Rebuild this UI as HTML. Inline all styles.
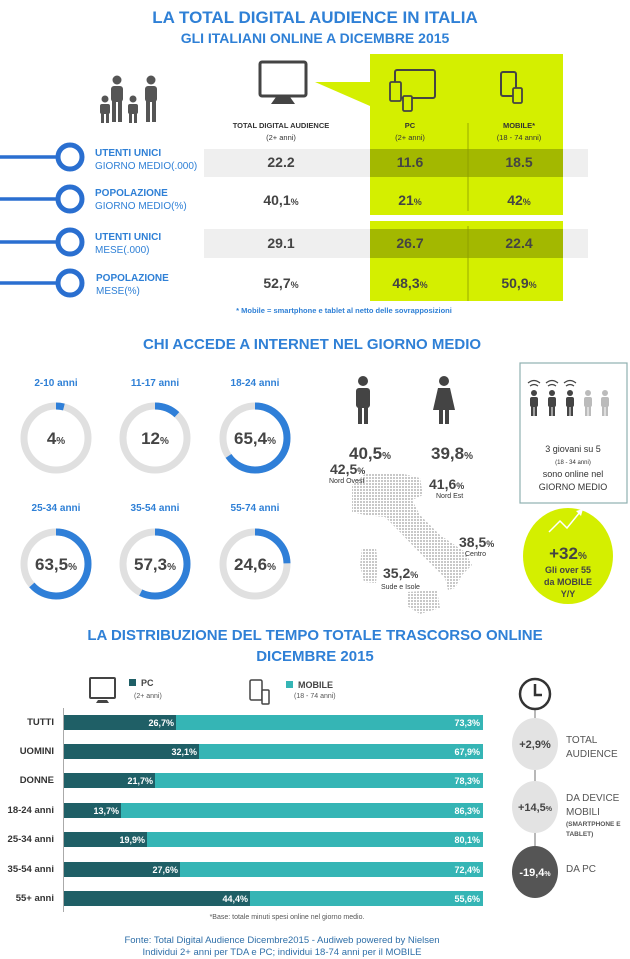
<!DOCTYPE html>
<html><head><meta charset="utf-8"><style>
html,body{margin:0;padding:0;background:#fff}
svg{display:block}
text{font-family:"Liberation Sans",sans-serif}
</style></head><body>
<svg width="630" height="959" viewBox="0 0 630 959" xmlns="http://www.w3.org/2000/svg">
<defs>
<pattern id="dots" width="3" height="3" patternUnits="userSpaceOnUse"><rect width="2" height="2" fill="#c8c8c8"/></pattern>
</defs>
<text x="315" y="23" text-anchor="middle" font-size="17" font-weight="bold" fill="#2f80d6">LA TOTAL DIGITAL AUDIENCE IN ITALIA</text>
<text x="315" y="43" text-anchor="middle" font-size="14" font-weight="bold" fill="#2f80d6">GLI ITALIANI ONLINE A DICEMBRE 2015</text>

<rect x="370" y="54" width="193" height="161" fill="#d4ef00"/>
<rect x="370" y="221" width="193" height="80" fill="#d4ef00"/>
<polygon points="315,82 370,82 370,106" fill="#d4ef00"/>
<rect x="204" y="149" width="384" height="28" fill="#efefef"/>
<rect x="370" y="149" width="193" height="28" fill="#a3b800"/>
<rect x="204" y="229" width="384" height="29" fill="#efefef"/>
<rect x="370" y="229" width="193" height="29" fill="#a3b800"/>
<line x1="468" y1="123" x2="468" y2="211" stroke="#8a9a00" stroke-width="0.8"/>
<line x1="468" y1="226" x2="468" y2="301" stroke="#8a9a00" stroke-width="0.8"/>

<g fill="#555">
<circle cx="117" cy="80" r="4.5"/><rect x="111" y="86" width="12" height="16" rx="3"/><rect x="112" y="100" width="4" height="22"/><rect x="118" y="100" width="4" height="22"/>
<circle cx="151" cy="80" r="4.5"/><rect x="145" y="86" width="12" height="16" rx="3"/><rect x="146" y="100" width="4" height="22"/><rect x="152" y="100" width="4" height="22"/>
<circle cx="105" cy="99" r="3.5"/><rect x="100" y="104" width="10" height="10" rx="2"/><rect x="101" y="112" width="3" height="11"/><rect x="106" y="112" width="3" height="11"/>
<circle cx="133" cy="99" r="3.5"/><rect x="128" y="104" width="10" height="10" rx="2"/><rect x="129" y="112" width="3" height="11"/><rect x="134" y="112" width="3" height="11"/>
</g>
<rect x="260" y="62" width="46" height="34" rx="2" fill="#fff" stroke="#444" stroke-width="3"/>
<polygon points="276,97 290,97 295,104 271,104" fill="#444"/>
<rect x="395" y="70" width="40" height="28" rx="2" fill="none" stroke="#444" stroke-width="2"/>
<rect x="390" y="82" width="11" height="19" rx="1.5" fill="#d4ef00" stroke="#444" stroke-width="1.8"/>
<rect x="403" y="96" width="9" height="15" rx="1.5" fill="#d4ef00" stroke="#444" stroke-width="1.8"/>
<rect x="501" y="72" width="15" height="24" rx="2" fill="none" stroke="#444" stroke-width="2"/>
<rect x="513" y="88" width="9" height="15" rx="1.5" fill="#d4ef00" stroke="#444" stroke-width="1.8"/>

<g font-size="7.5" fill="#333" text-anchor="middle">
<text x="281" y="128" font-weight="bold">TOTAL DIGITAL AUDIENCE</text>
<text x="281" y="140">(2+ anni)</text>
<text x="410" y="128" font-weight="bold">PC</text>
<text x="410" y="140">(2+ anni)</text>
<text x="519" y="128" font-weight="bold">MOBILE*</text>
<text x="519" y="140">(18 - 74 anni)</text>
</g>
<g stroke="#2a6fd0" stroke-width="3.5" fill="#fff">
<line x1="0" y1="157" x2="58" y2="157"/><circle cx="70" cy="157" r="12" stroke-width="5"/>
<line x1="0" y1="199" x2="58" y2="199"/><circle cx="70" cy="199" r="12" stroke-width="5"/>
<line x1="0" y1="242" x2="58" y2="242"/><circle cx="70" cy="242" r="12" stroke-width="5"/>
<line x1="0" y1="283" x2="58" y2="283"/><circle cx="70" cy="283" r="12" stroke-width="5"/>
</g>
<g font-size="10" fill="#2f80d6">
<text x="95" y="156" font-weight="bold">UTENTI UNICI</text><text x="95" y="169">GIORNO MEDIO(.000)</text>
<text x="95" y="196" font-weight="bold">POPOLAZIONE</text><text x="95" y="209">GIORNO MEDIO(%)</text>
<text x="95" y="240" font-weight="bold">UTENTI UNICI</text><text x="95" y="253">MESE(.000)</text>
<text x="96" y="281" font-weight="bold">POPOLAZIONE</text><text x="96" y="294">MESE(%)</text>
</g>
<g font-size="14" font-weight="bold" fill="#444" text-anchor="middle">
<text x="281" y="167">22.2</text><text x="410" y="167">11.6</text><text x="519" y="167">18.5</text>
<text x="281" y="205">40,1<tspan font-size="9">%</tspan></text><text x="410" y="205">21<tspan font-size="9">%</tspan></text><text x="519" y="205">42<tspan font-size="9">%</tspan></text>
<text x="281" y="248">29.1</text><text x="410" y="248">26.7</text><text x="519" y="248">22.4</text>
<text x="281" y="288">52,7<tspan font-size="9">%</tspan></text><text x="410" y="288">48,3<tspan font-size="9">%</tspan></text><text x="519" y="288">50,9<tspan font-size="9">%</tspan></text>
</g>
<text x="344" y="313" text-anchor="middle" font-size="7.5" font-weight="bold" fill="#2f80d6">* Mobile  = smartphone  e  tablet al netto delle sovrapposizioni</text>

<text x="312" y="349" text-anchor="middle" font-size="15" font-weight="bold" fill="#2f80d6">CHI ACCEDE A INTERNET NEL GIORNO MEDIO</text>
<g font-size="10" font-weight="bold" fill="#2f80d6" text-anchor="middle">
<text x="56" y="386">2-10 anni</text><text x="155" y="386">11-17 anni</text><text x="255" y="386">18-24 anni</text>
<text x="56" y="511">25-34 anni</text><text x="155" y="511">35-54 anni</text><text x="255" y="511">55-74 anni</text>
</g>
<g fill="none" stroke-width="7">
<circle cx="56" cy="438" r="32" stroke="#e0e0e0"/>
<circle cx="56" cy="438" r="32" stroke="#2f7fd8" stroke-dasharray="8.0 200" transform="rotate(-90 56 438)"/>
<circle cx="155" cy="438" r="32" stroke="#e0e0e0"/>
<circle cx="155" cy="438" r="32" stroke="#2f7fd8" stroke-dasharray="24.1 200" transform="rotate(-90 155 438)"/>
<circle cx="255" cy="438" r="32" stroke="#e0e0e0"/>
<circle cx="255" cy="438" r="32" stroke="#2f7fd8" stroke-dasharray="131.5 200" transform="rotate(-90 255 438)"/>
<circle cx="56" cy="564" r="32" stroke="#e0e0e0"/>
<circle cx="56" cy="564" r="32" stroke="#2f7fd8" stroke-dasharray="127.7 200" transform="rotate(-90 56 564)"/>
<circle cx="155" cy="564" r="32" stroke="#e0e0e0"/>
<circle cx="155" cy="564" r="32" stroke="#2f7fd8" stroke-dasharray="115.2 200" transform="rotate(-90 155 564)"/>
<circle cx="255" cy="564" r="32" stroke="#e0e0e0"/>
<circle cx="255" cy="564" r="32" stroke="#2f7fd8" stroke-dasharray="49.5 200" transform="rotate(-90 255 564)"/>
</g>
<g font-size="17" font-weight="bold" fill="#444" text-anchor="middle">
<text x="56" y="444">4<tspan font-size="10">%</tspan></text>
<text x="155" y="444">12<tspan font-size="10">%</tspan></text>
<text x="255" y="444">65,4<tspan font-size="10">%</tspan></text>
<text x="56" y="570">63,5<tspan font-size="10">%</tspan></text>
<text x="155" y="570">57,3<tspan font-size="10">%</tspan></text>
<text x="255" y="570">24,6<tspan font-size="10">%</tspan></text>
</g>
<g fill="#444">
<circle cx="363" cy="381" r="5"/><rect x="356" y="388" width="14" height="20" rx="3"/><rect x="358" y="405" width="4" height="19"/><rect x="364" y="405" width="4" height="19"/>
<circle cx="444" cy="381" r="5"/><polygon points="438,388 450,388 455,410 433,410"/><rect x="439" y="408" width="4" height="16"/><rect x="445" y="408" width="4" height="16"/>
</g>
<g font-size="17" font-weight="bold" fill="#444" text-anchor="middle">
<text x="370" y="459">40,5<tspan font-size="10">%</tspan></text>
<text x="452" y="459">39,8<tspan font-size="10">%</tspan></text>
</g>
<g fill="url(#dots)">
<polygon points="352,485 365,474 400,473 420,478 423,495 412,500 420,515 440,535 465,552 472,565 462,575 455,588 448,590 445,578 432,565 415,548 398,530 385,517 365,515 352,512"/>
<polygon points="362,548 376,548 378,565 376,583 364,582 360,565"/>
<polygon points="407,592 437,590 440,608 420,614 407,606"/>
</g>
<g fill="#444" font-weight="bold" font-size="14">
<text x="330" y="474">42,5<tspan font-size="9">%</tspan></text>
<text x="429" y="489">41,6<tspan font-size="9">%</tspan></text>
<text x="459" y="547">38,5<tspan font-size="9">%</tspan></text>
<text x="383" y="578">35,2<tspan font-size="9">%</tspan></text>
</g>
<g fill="#333" font-size="7">
<text x="329" y="483">Nord Ovest</text><text x="436" y="498">Nord Est</text><text x="465" y="556">Centro</text><text x="381" y="589">Sude e Isole</text>
</g>
<rect x="520" y="363" width="107" height="140" fill="#fff" stroke="#8fb0b0" stroke-width="1.2"/>
<g fill="#444">
<circle cx="534" cy="393" r="3"/><rect x="530" y="397" width="8" height="10" rx="2"/><rect x="531" y="405" width="2.5" height="11"/><rect x="534.5" y="405" width="2.5" height="11"/>
<circle cx="552" cy="393" r="3"/><rect x="548" y="397" width="8" height="10" rx="2"/><rect x="549" y="405" width="2.5" height="11"/><rect x="552.5" y="405" width="2.5" height="11"/>
<circle cx="570" cy="393" r="3"/><rect x="566" y="397" width="8" height="10" rx="2"/><rect x="567" y="405" width="2.5" height="11"/><rect x="570.5" y="405" width="2.5" height="11"/>
</g>
<g fill="#bbb">
<circle cx="588" cy="393" r="3"/><rect x="584" y="397" width="8" height="10" rx="2"/><rect x="585" y="405" width="2.5" height="11"/><rect x="588.5" y="405" width="2.5" height="11"/>
<circle cx="605" cy="393" r="3"/><rect x="601" y="397" width="8" height="10" rx="2"/><rect x="602" y="405" width="2.5" height="11"/><rect x="605.5" y="405" width="2.5" height="11"/>
</g>
<g fill="none" stroke="#444" stroke-width="1.2">
<path d="M530,386 q4,-3 8,0 M528,383 q6,-5 12,0"/><path d="M548,386 q4,-3 8,0 M546,383 q6,-5 12,0"/><path d="M566,386 q4,-3 8,0 M564,383 q6,-5 12,0"/>
</g>
<g fill="#333" text-anchor="middle">
<text x="573" y="452" font-size="9">3 giovani su 5</text>
<text x="573" y="464" font-size="6">(18 - 34 anni)</text>
<text x="573" y="477" font-size="9">sono online nel</text>
<text x="573" y="490" font-size="9">GIORNO  MEDIO</text>
</g>
<ellipse cx="568" cy="556" rx="45" ry="48" fill="#d4ef00"/>
<polyline points="549,532 560,521 567,528 580,512" fill="none" stroke="#fff" stroke-width="1.5"/>
<polygon points="583,509 576,511 581,516" fill="#fff"/>
<g fill="#444" font-weight="bold" text-anchor="middle">
<text x="568" y="559" font-size="17">+32<tspan font-size="10">%</tspan></text>
<text x="568" y="573" font-size="9">Gli over 55</text>
<text x="568" y="585" font-size="9">da MOBILE</text>
<text x="568" y="597" font-size="9">Y/Y</text>
</g>

<text x="315" y="640" text-anchor="middle" font-size="15" font-weight="bold" fill="#2f80d6">LA DISTRIBUZIONE  DEL TEMPO TOTALE TRASCORSO ONLINE</text>
<text x="315" y="661" text-anchor="middle" font-size="15" font-weight="bold" fill="#2f80d6">DICEMBRE 2015</text>
<rect x="90" y="678" width="25" height="20" rx="1" fill="none" stroke="#444" stroke-width="2"/>
<polygon points="98,700 107,700 109,703 96,703" fill="#444"/>
<rect x="129" y="679" width="7" height="7" fill="#1f5f66"/>
<text x="141" y="686" font-size="9" font-weight="bold" fill="#444">PC</text>
<text x="134" y="698" font-size="7" fill="#555">(2+ anni)</text>
<rect x="250" y="680" width="12" height="20" rx="1.5" fill="none" stroke="#444" stroke-width="1.5"/>
<rect x="262" y="690" width="7" height="14" rx="1" fill="#fff" stroke="#444" stroke-width="1.5"/>
<rect x="286" y="681" width="7" height="7" fill="#35b5b5"/>
<text x="298" y="688" font-size="9" font-weight="bold" fill="#444">MOBILE</text>
<text x="294" y="698" font-size="7" fill="#555">(18 - 74 anni)</text>
<line x1="63.5" y1="708" x2="63.5" y2="912" stroke="#aaa" stroke-width="1"/>
<g font-size="9.5" font-weight="bold" fill="#333" text-anchor="end">
<text x="54" y="725">TUTTI</text><text x="54" y="754">UOMINI</text><text x="54" y="783">DONNE</text>
<text x="54" y="813">18-24 anni</text><text x="54" y="842">25-34 anni</text><text x="54" y="872">35-54 anni</text><text x="54" y="901">55+ anni</text>
</g>
<g>
<rect x="64" y="715" width="419" height="15" fill="#35b5b5"/><rect x="64" y="715" width="112" height="15" fill="#1f5f66"/>
<rect x="64" y="744" width="419" height="15" fill="#35b5b5"/><rect x="64" y="744" width="135" height="15" fill="#1f5f66"/>
<rect x="64" y="773" width="419" height="15" fill="#35b5b5"/><rect x="64" y="773" width="91" height="15" fill="#1f5f66"/>
<rect x="64" y="803" width="419" height="15" fill="#35b5b5"/><rect x="64" y="803" width="57" height="15" fill="#1f5f66"/>
<rect x="64" y="832" width="419" height="15" fill="#35b5b5"/><rect x="64" y="832" width="83" height="15" fill="#1f5f66"/>
<rect x="64" y="862" width="419" height="15" fill="#35b5b5"/><rect x="64" y="862" width="116" height="15" fill="#1f5f66"/>
<rect x="64" y="891" width="419" height="15" fill="#35b5b5"/><rect x="64" y="891" width="186" height="15" fill="#1f5f66"/>
</g>
<g font-size="9" font-weight="bold" fill="#fff" text-anchor="end">
<text x="174" y="726">26,7%</text><text x="197" y="755">32,1%</text><text x="153" y="784">21,7%</text>
<text x="119" y="814">13,7%</text><text x="145" y="843">19,9%</text><text x="178" y="873">27,6%</text><text x="248" y="902">44,4%</text>
<text x="480" y="726">73,3%</text><text x="480" y="755">67,9%</text><text x="480" y="784">78,3%</text>
<text x="480" y="814">86,3%</text><text x="480" y="843">80,1%</text><text x="480" y="873">72,4%</text><text x="480" y="902">55,6%</text>
</g>
<text x="287" y="919" text-anchor="middle" font-size="7" fill="#555">*Base: totale  minuti  spesi  online  nel  giorno  medio.</text>
<line x1="535" y1="710" x2="535" y2="860" stroke="#888" stroke-width="1.2"/>
<circle cx="535" cy="694" r="15" fill="#fff" stroke="#333" stroke-width="2.5"/>
<polyline points="535,684 535,695 542,695" fill="none" stroke="#333" stroke-width="2.5"/>
<ellipse cx="535" cy="744" rx="23" ry="26" fill="#e3e3e3"/>
<ellipse cx="535" cy="807" rx="23" ry="26" fill="#e3e3e3"/>
<ellipse cx="535" cy="872" rx="23" ry="26" fill="#555"/>
<g font-weight="bold" text-anchor="middle" font-size="11">
<text x="535" y="748" fill="#444">+2,9%</text>
<text x="535" y="811" fill="#444">+14,5<tspan font-size="7">%</tspan></text>
<text x="535" y="876" fill="#fff">-19,4<tspan font-size="7">%</tspan></text>
</g>
<g font-size="10" fill="#555">
<text x="566" y="743">TOTAL</text><text x="566" y="757">AUDIENCE</text>
<text x="566" y="801">DA DEVICE</text><text x="566" y="815">MOBILI</text>
<text x="566" y="872">DA PC</text>
</g>
<g font-size="6.5" font-weight="bold" fill="#555"><text x="566" y="826">(SMARTPHONE E</text><text x="566" y="836">TABLET)</text></g>
<text x="282" y="943" text-anchor="middle" font-size="9.5" fill="#2f6fa8">Fonte:  Total  Digital  Audience  Dicembre2015  - Audiweb  powered  by Nielsen</text>
<text x="282" y="955" text-anchor="middle" font-size="9.5" fill="#2f6fa8">Individui  2+ anni  per TDA e PC; individui  18-74 anni  per il  MOBILE</text>
</svg>
</body></html>
